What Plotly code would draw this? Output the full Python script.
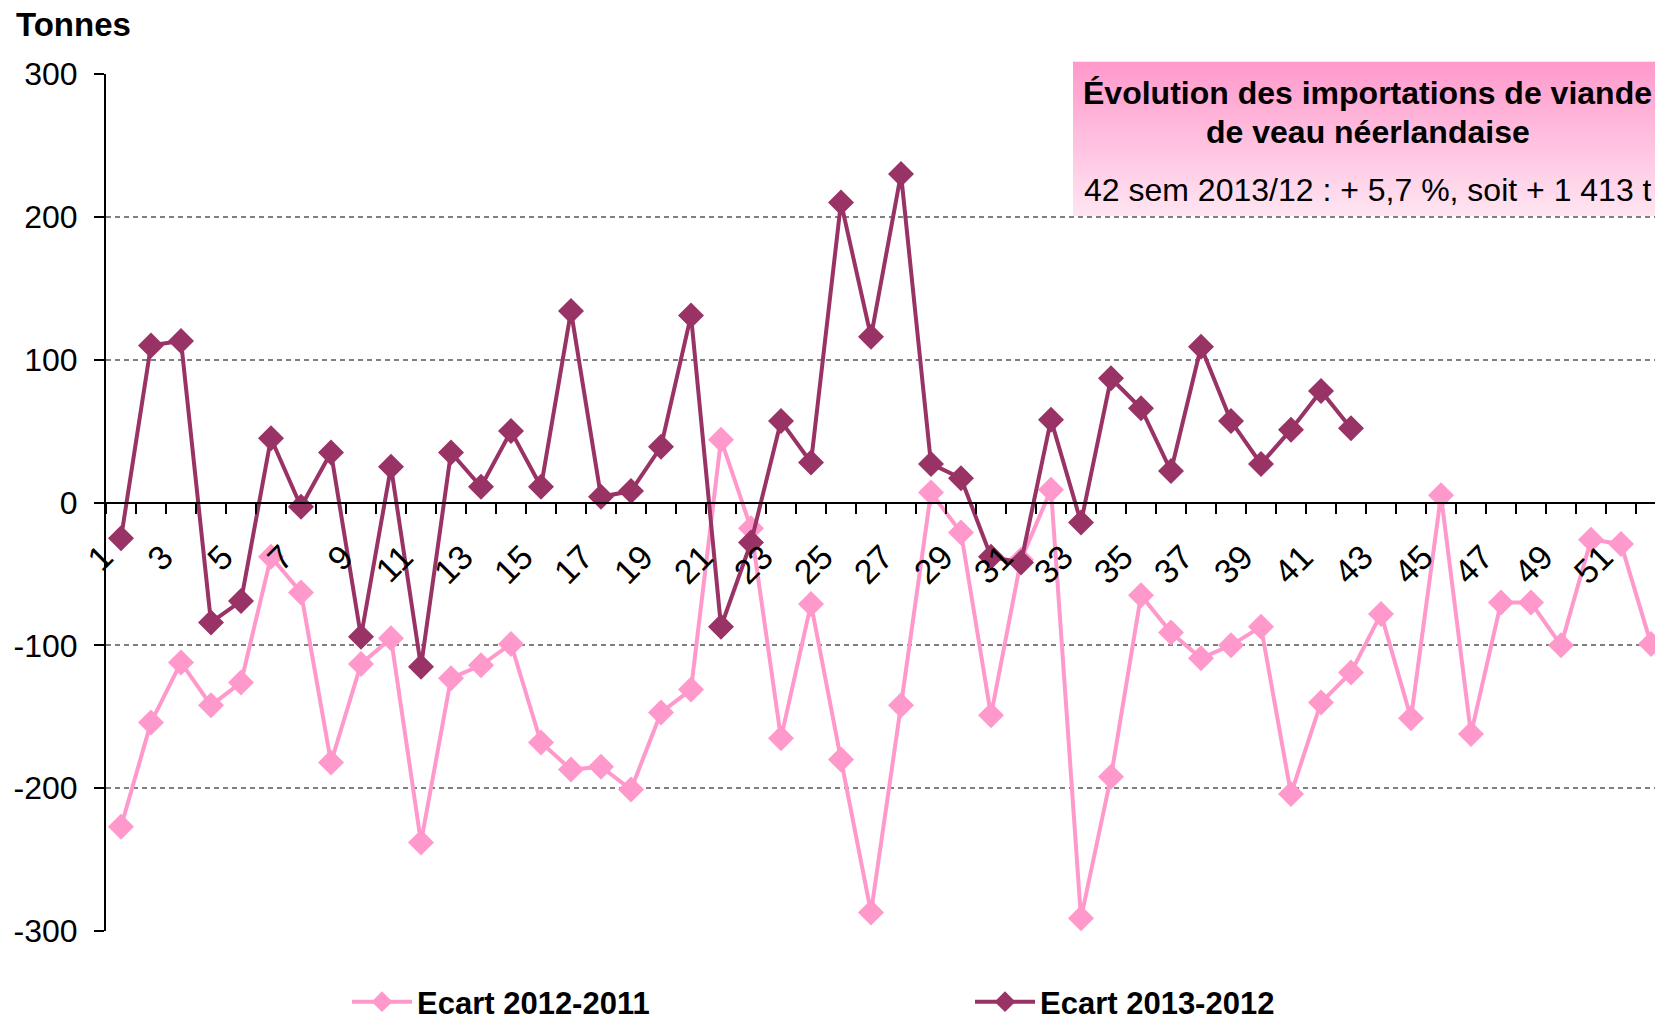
import plotly.graph_objects as go

# ---- data ----
weeks_2012 = list(range(1, 53))
ecart_2012_2011 = [-227, -154, -112, -142, -126, -38, -63, -182, -113, -95,
                   -238, -123, -114, -99, -168, -187, -185, -201, -147, -131,
                   44, -18, -165, -71, -180, -287, -142, 7, -21, -149,
                   -40, 9, -291, -192, -65, -91, -109, -100, -87, -204,
                   -140, -119, -78, -151, 5, -162, -70, -70, -100, -26,
                   -29, -99]
weeks_2013 = list(range(1, 43))
ecart_2013_2012 = [-25, 110, 113, -84, -69, 45, -3, 35, -94, 25,
                   -115, 35, 11, 50, 11, 134, 4, 8, 39, 131,
                   -87, -28, 57, 28, 210, 116, 230, 27, 17, -38,
                   -42, 58, -14, 87, 66, 22, 109, 57, 27, 51,
                   78, 52]
series_names = ["Ecart 2012-2011", "Ecart 2013-2012"]
tick_weeks = list(range(1, 52, 2))
tick_labels = [str(w) for w in tick_weeks]
y_ticks = [300, 200, 100, 0, -100, -200, -300]
y_tick_labels = ["300", "200", "100", "0", "-100", "-200", "-300"]
box_title = ["Évolution des importations de viande", "de veau néerlandaise"]
box_note = "42 sem 2013/12 : + 5,7 %, soit + 1 413 t"
y_title = "Tonnes"

# ---- style ----
PINK = "#FF99CC"
PLUM = "#993366"
FONT = "Liberation Sans, Arial, sans-serif"
W, H = 1655, 1023
L, R, T, B = 106, 0, 74, 92
plot_w = W - L - R
plot_h = H - T - B
band = 30.0


def px_to_py(p):
    return (H - B - p) / plot_h


def px_to_px(p):
    return (p - L) / plot_w


fig = go.Figure()
fig.add_trace(go.Scatter(
    x=weeks_2012, y=ecart_2012_2011, name=series_names[0], mode="lines+markers",
    line=dict(color=PINK, width=4),
    marker=dict(symbol="diamond", size=20, color=PINK),
    cliponaxis=False))
fig.add_trace(go.Scatter(
    x=weeks_2013, y=ecart_2013_2012, name=series_names[1], mode="lines+markers",
    line=dict(color=PLUM, width=4),
    marker=dict(symbol="diamond", size=20, color=PLUM),
    cliponaxis=False))

# gradient box (strips)
bx0, bx1 = px_to_px(1073), 1.02
by0, by1 = px_to_py(216), px_to_py(63)
top_rgb = (255, 153, 204)
bot_rgb = (255, 228, 241)
n = 40
shapes = []
for i in range(n):
    f = i / (n - 1)
    c = tuple(round(top_rgb[k] + (bot_rgb[k] - top_rgb[k]) * f) for k in range(3))
    ya = by1 - (by1 - by0) * i / n
    yb = by1 - (by1 - by0) * (i + 1) / n
    shapes.append(dict(type="rect", xref="paper", yref="paper",
                       x0=bx0, x1=bx1, y0=yb, y1=ya + 0.0015,
                       fillcolor="rgb(%d,%d,%d)" % c, line=dict(width=0),
                       layer="above"))

cx = px_to_px(1367.5)
annotations = [
    dict(text="<b>%s</b>" % box_title[0], xref="paper", yref="paper",
         x=cx, y=px_to_py(93), xanchor="center", yanchor="middle",
         showarrow=False, font=dict(family=FONT, size=32, color="black")),
    dict(text="<b>%s</b>" % box_title[1], xref="paper", yref="paper",
         x=cx, y=px_to_py(132), xanchor="center", yanchor="middle",
         showarrow=False, font=dict(family=FONT, size=32, color="black")),
    dict(text=box_note, xref="paper", yref="paper",
         x=cx, y=px_to_py(190), xanchor="center", yanchor="middle",
         showarrow=False, font=dict(family=FONT, size=32, color="black")),
    dict(text="<b>%s</b>" % y_title, xref="paper", yref="paper",
         x=px_to_px(14), y=px_to_py(25), xanchor="left", yanchor="middle",
         showarrow=False, font=dict(family=FONT, size=33, color="black")),
]

fig.update_layout(
    width=W, height=H,
    margin=dict(l=L, r=R, t=T, b=B, pad=0, autoexpand=False),
    paper_bgcolor="white", plot_bgcolor="white",
    font=dict(family=FONT, size=31, color="black"),
    shapes=shapes, annotations=annotations,
    showlegend=True,
    legend=dict(orientation="h", x=px_to_px(347), y=px_to_py(1002),
                xanchor="left", yanchor="middle",
                font=dict(family=FONT, size=31, color="black", weight="bold"),
                itemwidth=60,
                entrywidth=548, entrywidthmode="pixels",
                bgcolor="rgba(0,0,0,0)"),
    xaxis=dict(range=[0.5, 0.5 + plot_w / band], anchor="free", position=0.5,
               automargin=False,
               showline=True, linecolor="black", linewidth=2,
               showgrid=False, zeroline=False,
               tickmode="array", tickvals=tick_weeks, ticktext=tick_labels,
               ticks="", tickangle=-45, ticklabelstandoff=20,
               ticklabelshift=-18,
               tickfont=dict(family=FONT, size=34, color="black"),
               minor=dict(ticks="outside", ticklen=10, tickwidth=2,
                          tickcolor="black", tick0=0.5, dtick=1, showgrid=False)),
    yaxis=dict(range=[-300, 300], tickmode="array", tickvals=y_ticks,
               ticktext=y_tick_labels, automargin=False,
               showline=True, linecolor="black", linewidth=2,
               ticks="outside", ticklen=10, tickwidth=2, tickcolor="black",
               showgrid=True, gridcolor="#808080", gridwidth=2,
               griddash="5px,4px", zeroline=False,
               ticklabelstandoff=10,
               tickfont=dict(family=FONT, size=32, color="black")),
)

fig.write_html(
    "out.html",
    config={"displayModeBar": False},
    post_script="document.body.style.margin='0px';document.body.style.overflow='hidden';",
)
